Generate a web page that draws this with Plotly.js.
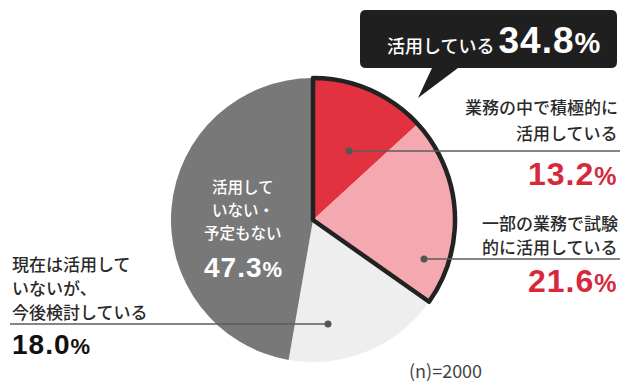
<!DOCTYPE html>
<html>
<head>
<meta charset="utf-8">
<script src="https://cdn.plot.ly/plotly-3.0.1.min.js"></script>
<style>html,body{margin:0;padding:0;background:#fff;}#chart{width:640px;height:389px;}</style>
</head>
<body>
<div id="chart"></div>
<script>
// ---- data ----
const labels = ['業務の中で積極的に活用している', '一部の業務で試験的に活用している', '現在は活用していないが、今後検討している', '活用していない・予定もない'];
const values = [13.2, 21.6, 18.0, 47.3];
const labelLines = [
  ['業務の中で積極的に', '活用している'],
  ['一部の業務で試験', '的に活用している'],
  ['現在は活用して', 'いないが、', '今後検討している'],
  ['活用して', 'いない・', '予定もない']
];
const groupLabel = '活用している';
const groupValue = 34.8;
const groupSlices = 2; // first two slices form the "using" group
const sampleNote = '(n)=2000';

// ---- styling / layout ----
const W = 640, H = 389;
const px = x => x / W;
const py = y => 1 - y / H;
const sliceColors = ['#e3323f', '#f4a8af', '#eeeeee', '#787878'];
const JP = 'Noto Sans CJK JP';
const NUM = 'Liberation Sans';
const cx = 313, cy = 220, R = 142;

const callouts = [
  {anchor: 'right', x: 620, lineY: [107, 133], textSize: 17, pctY: 174, pctColor: '#d8283b', textColor: '#2a2a2a', pctSize: 32, dot: [349, 151], rule: [349, 620, 151]},
  {anchor: 'right', x: 620, lineY: [222, 247], textSize: 17, pctY: 281, pctColor: '#d8283b', textColor: '#2a2a2a', pctSize: 32, dot: [424, 259], rule: [424, 620, 259]},
  {anchor: 'left', x: 10, lineY: [263, 287, 311], textSize: 17, pctY: 344, pctColor: '#111', textColor: '#2a2a2a', pctSize: 28, dot: [328, 324], rule: [10, 328, 324]},
  {anchor: 'center', x: 243, lineY: [186, 209, 232], textSize: 15.5, pctY: 267, pctColor: '#fff', textColor: '#fff', pctSize: 28, dot: null, rule: null}
];

function pctHtml(v, size, color) {
  const st = 'font-family:' + NUM + ';font-weight:bold;letter-spacing:1px;';
  return '<span style="' + st + 'font-size:' + size + 'px;color:' + color + '">' + v.toFixed(1) +
    '</span><span style="' + st + 'font-size:' + Math.round(size * 0.78) + 'px;color:' + color + '">%</span>';
}

const annotations = [];
const shapes = [];

callouts.forEach((c, i) => {
  labelLines[i].forEach((t, j) => {
    annotations.push({xref: 'paper', yref: 'paper', x: px(c.x), y: py(c.lineY[j]), xanchor: c.anchor, yanchor: 'middle',
      text: t, showarrow: false, font: {family: JP, size: c.textSize, color: c.textColor, weight: 500}});
  });
  annotations.push({xref: 'paper', yref: 'paper', x: px(c.x), y: py(c.pctY), xanchor: c.anchor, yanchor: 'middle',
    text: pctHtml(values[i], c.pctSize, c.pctColor), showarrow: false, font: {family: NUM, size: c.pctSize, color: c.pctColor}});
  if (c.rule) {
    shapes.push({type: 'line', xref: 'paper', yref: 'paper', x0: px(c.rule[0]), x1: px(c.rule[1]), y0: py(c.rule[2]), y1: py(c.rule[2]),
      line: {color: '#5c5c5c', width: 1.6}});
  }
  if (c.dot) {
    const r = 3.5;
    shapes.push({type: 'circle', xref: 'paper', yref: 'paper', x0: px(c.dot[0] - r), x1: px(c.dot[0] + r), y0: py(c.dot[1] + r), y1: py(c.dot[1] - r),
      fillcolor: '#555', line: {width: 0}});
  }
});

// speech bubble
function P(x, y) { return px(x).toFixed(5) + ',' + py(y).toFixed(5); }
const bx0 = 360, bx1 = 617, by0 = 10, by1 = 68, br = 6;
const bubblePath = 'M' + P(bx0 + br, by0) + ' L' + P(bx1 - br, by0) + ' Q' + P(bx1, by0) + ' ' + P(bx1, by0 + br) +
  ' L' + P(bx1, by1 - br) + ' Q' + P(bx1, by1) + ' ' + P(bx1 - br, by1) +
  ' L' + P(458, by1) + ' L' + P(418, 98) + ' L' + P(432, by1) +
  ' L' + P(bx0 + br, by1) + ' Q' + P(bx0, by1) + ' ' + P(bx0, by1 - br) +
  ' L' + P(bx0, by0 + br) + ' Q' + P(bx0, by0) + ' ' + P(bx0 + br, by0) + ' Z';
shapes.push({type: 'path', xref: 'paper', yref: 'paper', path: bubblePath, fillcolor: '#1f1f1f', line: {width: 0}});

annotations.push({xref: 'paper', yref: 'paper', x: px(494), y: py(40), xanchor: 'center', yanchor: 'middle', showarrow: false,
  text: '<span style="font-family:' + JP + ';font-size:18px;font-weight:500">' + groupLabel + ' </span>' + pctHtml(groupValue, 37, '#fff'),
  font: {family: JP, size: 18, color: '#fff'}});

annotations.push({xref: 'paper', yref: 'paper', x: px(407), y: py(370), xanchor: 'left', yanchor: 'middle', showarrow: false,
  text: sampleNote, font: {family: JP, size: 18, color: '#444'}});

const domain = {x: [px(cx - R), px(cx + R)], y: [py(cy + R), py(cy - R)]};
const groupVals = [values.slice(0, groupSlices).reduce((a, b) => a + b, 0), values.slice(groupSlices).reduce((a, b) => a + b, 0)];

const traces = [
  {type: 'pie', labels: labels, values: values, sort: false, direction: 'clockwise', rotation: 0,
    marker: {colors: sliceColors, line: {width: 0}}, textinfo: 'none', hoverinfo: 'skip', showlegend: false, domain: domain},
  {type: 'pie', labels: ['g1', 'g2'], values: groupVals, sort: false, direction: 'clockwise', rotation: 0,
    marker: {colors: ['rgba(0,0,0,0)', 'rgba(0,0,0,0)'], line: {width: [4.5, 0], color: ['#222', 'rgba(0,0,0,0)']}},
    textinfo: 'none', hoverinfo: 'skip', showlegend: false, domain: domain}
];

Plotly.newPlot('chart', traces, {
  width: W, height: H, margin: {l: 0, r: 0, t: 0, b: 0},
  paper_bgcolor: '#fff', plot_bgcolor: '#fff', showlegend: false,
  annotations: annotations, shapes: shapes
}, {staticPlot: true});
</script>
</body>
</html>
